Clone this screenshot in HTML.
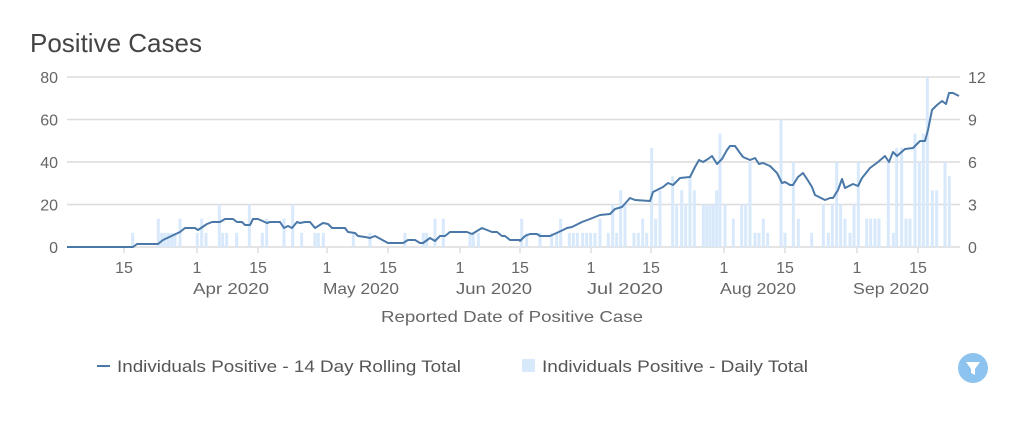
<!DOCTYPE html>
<html><head><meta charset="utf-8"><style>
html,body{margin:0;padding:0;background:#fff;width:1023px;height:428px;overflow:hidden}
svg{display:block;font-family:"Liberation Sans",sans-serif}
</style></head><body>
<svg id="s" width="1023" height="428" viewBox="0 0 1023 428">
<text x="30" y="52" font-size="26" fill="#444">Positive Cases</text>
<g id="g"></g>
</svg>
<script>
const NS="http://www.w3.org/2000/svg";const g=document.getElementById('g');
function el(t,a,txt){const e=document.createElementNS(NS,t);for(const k in a)e.setAttribute(k,a[k]);if(txt!==undefined)e.textContent=txt;g.appendChild(e);return e;}
// grid
const ys=[247,204.5,162,119.5,77];
ys.forEach((y,i)=>{el('line',{x1:67,x2:960,y1:y,y2:y,stroke:'#dcdcdc','stroke-width':1.5});
el('text',{x:58,y:y+6,'font-size':16,fill:'#666','text-anchor':'end'},String(i*20));
el('text',{x:968,y:y+6,'font-size':16,fill:'#666'},String(i*3));});
// bars
const U=170/12;
const b1=[[218,1],[295,2],[305,1],[315,1],[325,1],[335,1],[345,1],[360,2],[412,1],[425,2],[438,1],[478,3],[488,1],[500,1],[530,1],[568,3],[607,1],[620,2],[672,2],[698,3],[725,1],[765,1],[775,1],[790,1],[880,1],[930,1],[1035,1],[1090,1],[1100,1],[1125,2],[1150,2],[1230,1],[1240,1],[1255,1]];
const b2=[[65,2],[80,1],[120,1],[155,1],[170,1],[182,2],[208,1],[220,1],[232,1],[248,1],[260,1],[272,1],[285,1],[300,2],[325,1],[338,3],[350,1],[362,4],[375,3],[402,1],[415,1],[428,2],[440,1],[455,7],[467,2],[480,4],[518,5],[530,3],[545,4],[557,3],[570,5],[583,4],[610,3],[620,3],[630,3],[640,3],[650,4],[660,8],[675,3],[700,2],[725,3],[737,3],[750,6],[765,1],[777,1],[790,2],[803,1],[843,9],[855,1],[880,6],[895,2],[935,1],[970,3],[985,1],[997,3],[1010,6],[1022,3],[1035,2],[1050,1],[1062,3],[1075,6],[1100,2],[1112,2],[1125,2],[1137,2],[1165,6],[1180,1],[1190,7],[1205,7],[1218,2],[1230,2],[1245,8],[1258,6],[1270,8],[1282,12],[1297,4],[1310,4],[1335,6],[1348,5]];
const bars=b1.map(b=>[60+b[0]/3,b[1]]).concat(b2.map(b=>[500+b[0]/3,b[1]]));
bars.forEach(([x,c])=>el('rect',{x:x-1.5,y:247-c*U,width:3,height:c*U,fill:'#d7e9fb'}));
// line
const pts=[[67,247],[133,247],[137,244],[158,244],[163,240],[180,232],[185,228],[195,228],[198,230],[207,224],[212,222],[220,222],[225,219],[233,219],[237,222],[242,222],[245,225],[250,225],[253,219],[258,219],[267,223],[270,222],[280,222],[284,228],[288,226],[292,228],[297,222],[300,223],[305,222],[310,222],[315,228],[323,223],[328,224],[332,228],[345,228],[348,232],[355,233],[358,236],[365,237],[370,238],[375,236],[388,243],[403,243],[408,240],[415,240],[420,243],[423,243],[430,238],[435,241],[440,236],[445,236],[450,232],[467,232],[472,234],[482,228],[492,232],[497,232],[502,236],[505,236],[510,240],[520,240],
[507,241].slice(0,0),
[520,241],[525,236],[530,234],[537,234],[540,236],[550,236],[563,230],[567,228],[572,227],[582,222],[590,219],[600,215],[610,214],[615,209],[622,207],[630,198],[635,200],[650,201],[653,192],[663,187],[668,183],[673,185],[680,178],[690,177],[695,167],[699,160],[703,162],[708,159],[712,156],[717,164],[722,159],[727,150],[730,146],[735,146],[740,153],[743,157],[750,160],[755,158],[759,164],[763,163],[770,166],[777,173],[782,183],[785,182],[790,185],[793,185],[798,177],[803,173],[807,179],[812,187],[815,195],[825,200],[830,198],[833,198],[838,190],[842,179],[845,188],[853,184],[858,186],[862,178],[870,168],[878,162],[885,156],[889,162],[893,152],[897,156],[905,149],[913,148],[920,141],[925,141],[928,130],[932,110],[937,105],[942,101],[946,104],[949,93],[953,93],[959,96]].filter(p=>p.length);
el('polyline',{points:pts.map(p=>p.join(',')).join(' '),fill:'none',stroke:'#4a78a8','stroke-width':2,'stroke-linejoin':'round'});
// x ticks
const day=(918-124)/184;
const ticks=[[124,'15',''],[197,'1','Apr 2020'],[258,'15',''],[327,'1','May 2020'],[388,'15',''],[460,'1','Jun 2020'],[520,'15',''],[591,'1','Jul 2020'],[651,'15',''],[724,'1','Aug 2020'],[785,'15',''],[857,'1','Sep 2020'],[918,'15','']];
ticks.forEach(([x,d,m])=>{el('line',{x1:x,x2:x,y1:248,y2:253,stroke:'#ccc'});
el('text',{x:x,y:273,'font-size':16,fill:'#666','text-anchor':'middle'},d);
if(m)el('text',{x:x+34,y:294,'font-size':16,fill:'#666','text-anchor':'middle',textLength:m.length>8?82:76,lengthAdjust:'spacingAndGlyphs'},m);});
el('text',{x:512,y:322,'font-size':16,fill:'#666','text-anchor':'middle',textLength:262,lengthAdjust:'spacingAndGlyphs'},'Reported Date of Positive Case');
// legend
el('line',{x1:97,x2:110,y1:366,y2:366,stroke:'#4a78a8','stroke-width':2});
el('text',{x:117,y:372,'font-size':17,fill:'#555',textLength:344,lengthAdjust:'spacingAndGlyphs'},'Individuals Positive - 14 Day Rolling Total');
el('rect',{x:522,y:359,width:13,height:13,fill:'#d7e9fb'});
el('text',{x:542,y:372,'font-size':17,fill:'#555',textLength:266,lengthAdjust:'spacingAndGlyphs'},'Individuals Positive - Daily Total');
el('circle',{cx:973,cy:368,r:15,fill:'#8cc4ef'});
el('path',{d:'M966,362 L980,362 L975,369 L975,375 L971,373 L971,369 Z',fill:'#fff'});
</script>
</body></html>
